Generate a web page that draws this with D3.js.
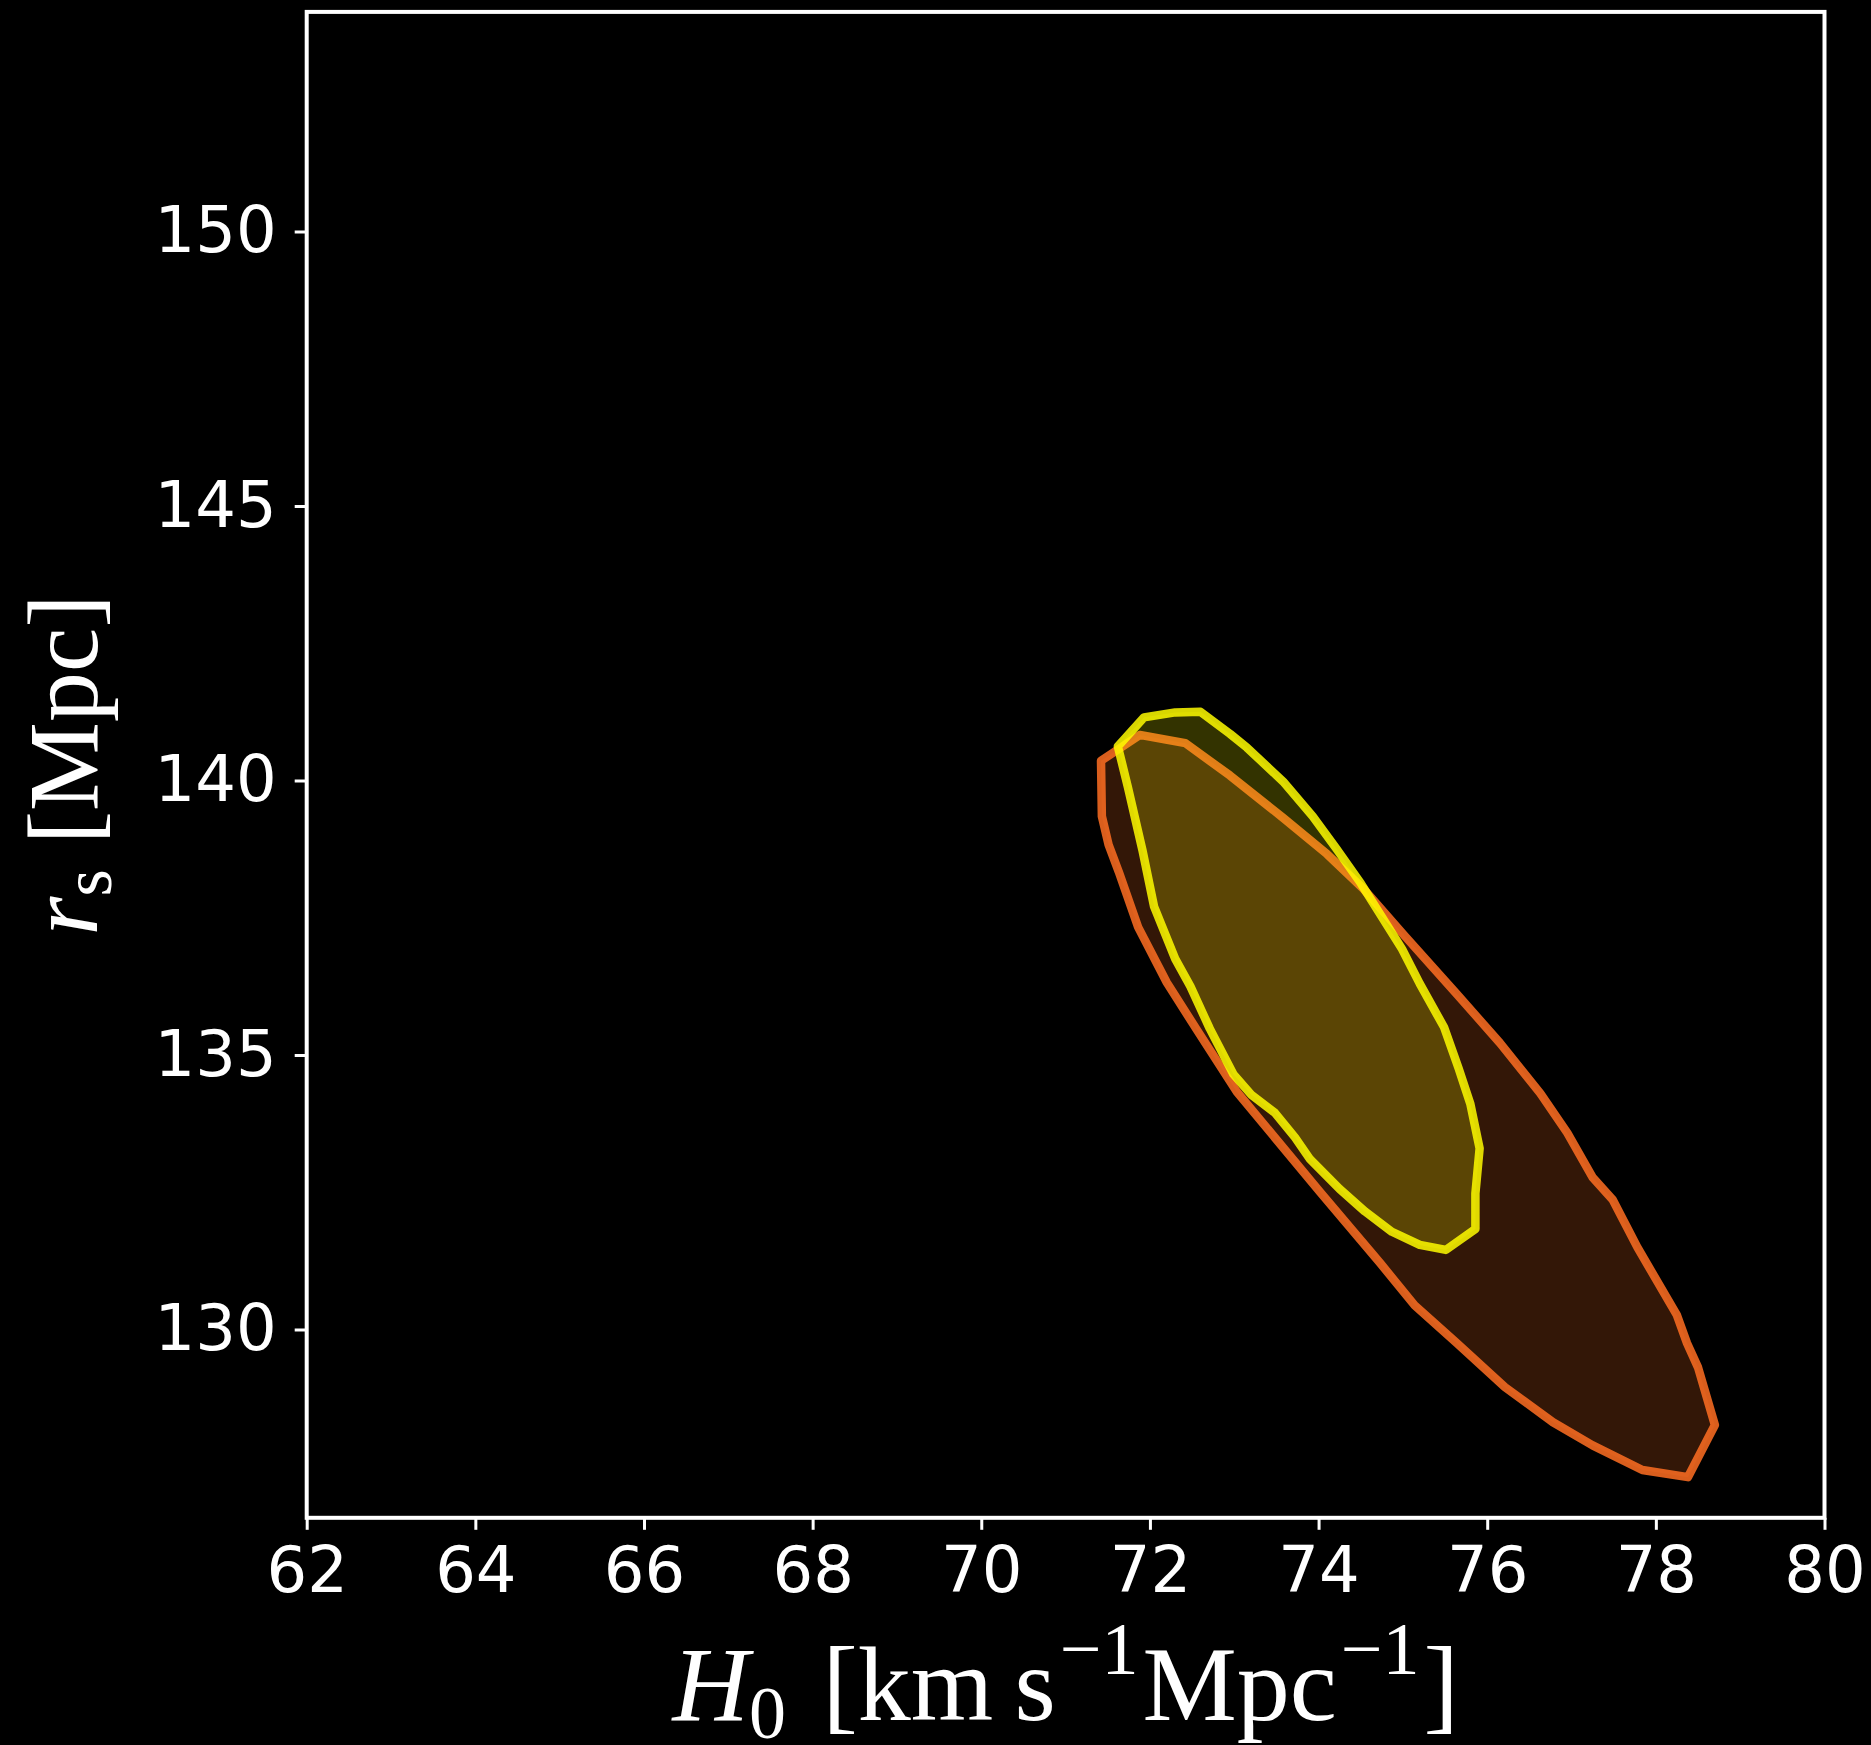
<!DOCTYPE html>
<html lang="en">

<head>
    <meta charset="UTF-8">
    <title>H0 vs rs contours</title>
    <style>
        body { margin: 0; background: #000; }
        .tick text { font-family: "DejaVu Sans", sans-serif; font-size: 64px; fill: #fff; }
        .tick line { stroke: #fff; stroke-width: 3px; }
        .domain { display: none; }
        .label { font-family: "Liberation Serif", "DejaVu Serif", serif; fill: #fff; }
    </style>
</head>

<body>
    <div id="chart"></div>

    <script src="https://d3js.org/d3.v7.min.js"></script>
    <script>
        "use strict";

        // axis ranges and ticks
        var xDomain = [62, 80];
        var yDomain = [126.57, 154.0];
        var xTicks = [62, 64, 66, 68, 70, 72, 74, 76, 78, 80];
        var yTicks = [130, 135, 140, 145, 150];

        // outer (orange) contour, [H0, rs]
        var orangeContour = [
            [71.42, 140.36], [71.88, 140.83], [72.42, 140.68], [72.95, 140.09], [73.58, 139.32],
            [74.10, 138.66], [74.53, 138.03], [75.01, 137.19], [75.64, 136.11], [76.15, 135.22],
            [76.63, 134.30], [76.95, 133.58], [77.25, 132.77], [77.49, 132.36], [77.78, 131.50],
            [78.25, 130.26], [78.37, 129.75], [78.50, 129.31], [78.70, 128.26], [78.38, 127.31],
            [77.84, 127.44], [77.25, 127.89], [76.78, 128.31], [76.21, 128.95], [75.64, 129.75],
            [75.14, 130.44], [74.73, 131.21], [74.02, 132.50], [73.03, 134.33], [72.56, 135.45],
            [72.20, 136.32], [71.86, 137.33], [71.63, 138.34], [71.51, 138.83], [71.43, 139.35]
        ];

        // inner (yellow) contour, [H0, rs]
        var yellowContour = [
            [71.62, 140.62], [71.93, 141.15], [72.30, 141.24], [72.60, 141.25], [72.95, 140.85],
            [73.15, 140.60], [73.58, 139.98], [73.93, 139.35], [74.21, 138.76], [74.50, 138.13],
            [74.99, 136.93], [75.20, 136.30], [75.49, 135.50], [75.66, 134.76], [75.80, 134.11],
            [75.91, 133.30], [75.86, 132.48], [75.86, 131.83], [75.51, 131.45], [75.20, 131.54],
            [74.87, 131.78], [74.55, 132.15], [74.25, 132.56], [73.90, 133.10], [73.72, 133.50],
            [73.48, 133.95], [73.20, 134.28], [72.99, 134.65], [72.71, 135.48], [72.48, 136.25],
            [72.30, 136.75], [72.05, 137.70], [71.91, 138.74], [71.74, 139.87]
        ];

        var W = 1871, H = 1745;
        var margin = { top: 11.9, left: 306.7, right: 46.5, bottom: 227.2 };
        var width = W - margin.left - margin.right;
        var height = H - margin.top - margin.bottom;

        var svg = d3.select("#chart").append("svg")
            .attr("width", W)
            .attr("height", H)
            .style("display", "block")
            .style("background", "#000");

        var g = svg.append("g")
            .attr("transform", "translate(" + margin.left + "," + margin.top + ")");

        var x = d3.scaleLinear().domain(xDomain).range([0, width]);
        var y = d3.scaleLinear().domain(yDomain).range([height, 0]);

        var line = d3.line()
            .x(function (d) { return x(d[0]); })
            .y(function (d) { return y(d[1]); })
            .curve(d3.curveLinearClosed);

        var plot = g.append("g");

        plot.append("path")
            .attr("d", line(orangeContour))
            .attr("fill", "rgba(255,113,36,0.2)")
            .attr("stroke", "rgba(255,110,34,0.85)")
            .attr("stroke-width", 8.5)
            .attr("stroke-linejoin", "round");

        plot.append("path")
            .attr("d", line(yellowContour))
            .attr("fill", "rgba(255,255,0,0.2)")
            .attr("stroke", "rgba(255,251,0,0.85)")
            .attr("stroke-width", 8.5)
            .attr("stroke-linejoin", "round");

        // axes
        g.append("g")
            .attr("transform", "translate(0," + height + ")")
            .call(d3.axisBottom(x).tickValues(xTicks).tickSize(12).tickPadding(17));

        g.append("g")
            .call(d3.axisLeft(y).tickValues(yTicks).tickSize(12).tickPadding(18));

        // frame
        g.append("rect")
            .attr("width", width)
            .attr("height", height)
            .attr("fill", "none")
            .attr("stroke", "#fff")
            .attr("stroke-width", 4);

        // x label
        var xl = svg.append("text")
            .attr("class", "label")
            .attr("x", margin.left + width / 2)
            .attr("y", 1720)
            .attr("text-anchor", "middle")
            .style("font-size", "106px");
        xl.append("tspan").style("font-style", "italic").text("H");
        xl.append("tspan").attr("dy", 18).style("font-size", "74px").text("0");
        xl.append("tspan").attr("dy", -18).attr("dx", 10).text(" [km\u2009s");
        xl.append("tspan").attr("dy", -46).attr("dx", 4).style("font-size", "74px").text("\u22121");
        xl.append("tspan").attr("dy", 46).attr("dx", 4).text("Mpc");
        xl.append("tspan").attr("dy", -46).attr("dx", 4).style("font-size", "74px").text("\u22121");
        xl.append("tspan").attr("dy", 46).attr("dx", 4).text("]");

        // y label
        var yl = svg.append("text")
            .attr("class", "label")
            .attr("transform", "translate(97," + (margin.top + height / 2) + ") rotate(-90)")
            .attr("text-anchor", "middle")
            .style("font-size", "100px");
        yl.append("tspan").style("font-style", "italic").text("r");
        yl.append("tspan").attr("dy", 14).style("font-size", "70px").text("s");
        yl.append("tspan").attr("dy", -14).text(" [Mpc]");
    </script>
</body>

</html>
